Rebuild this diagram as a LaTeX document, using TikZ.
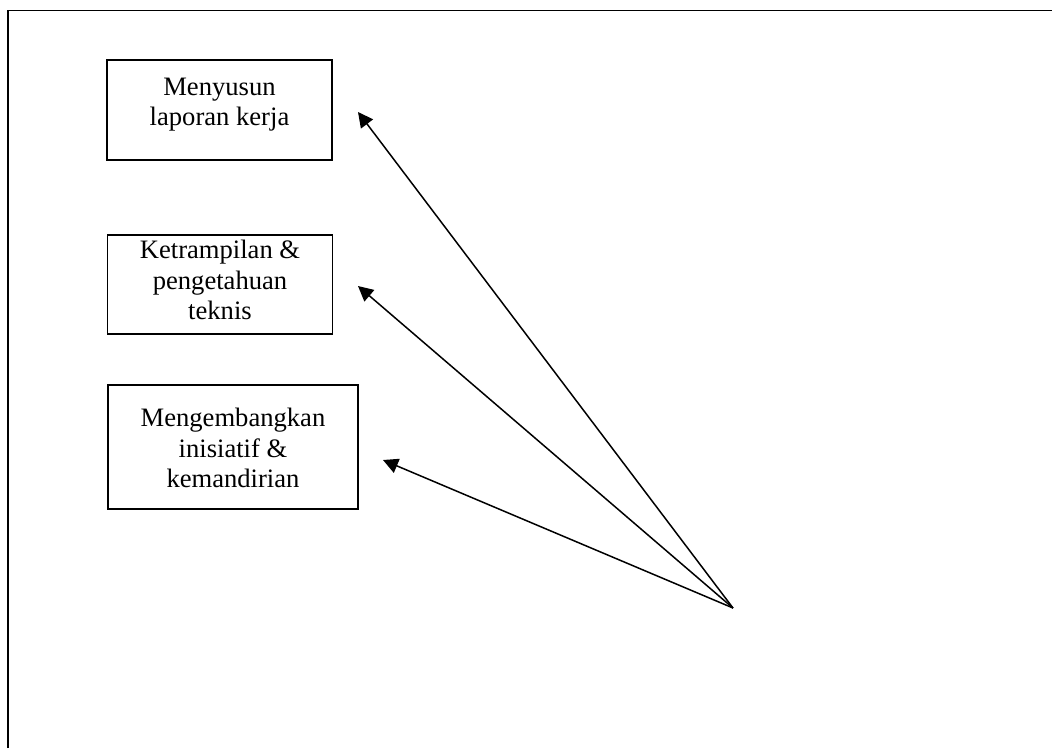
\documentclass[tikz,border=0pt]{standalone}
\usepackage{fontspec}
\setmainfont{Liberation Serif}
\usetikzlibrary{arrows.meta}
\begin{document}
\begin{tikzpicture}[x=1pt,y=-1pt,
  line width=1.5pt,
  framebox/.style={draw,line width=1.5pt,rectangle,inner sep=0pt},
  boxtext/.style={align=center,inner sep=0pt,font=\fontsize{26.6}{30.5}\selectfont},
  pointer/.style={-{Triangle[length=15pt,width=15pt]},line width=1.5pt}]
  \useasboundingbox (0,0) rectangle (1052,748);
  % outer frame (open to the right and bottom)
  \draw[line width=1.6pt] (8,748) -- (8,10.5) -- (1052,10.5);
  % boxes
  \node[framebox,minimum width=225pt,minimum height=100pt] (b1) at (219.5,110) {};
  \node[framebox,minimum width=225pt,minimum height=99pt] (b2) at (220,284.5) {};
  \node[framebox,minimum width=250pt,minimum height=124pt] (b3) at (233,447) {};
  % box texts
  \node[boxtext] (t1) at ([yshift=5.5pt]b1.center) {Menyusun\\laporan kerja};
  \node[boxtext] (t2) at ([yshift=4.5pt]b2.center) {Ketrampilan \&\\pengetahuan\\teknis};
  \node[boxtext] (t3) at ([yshift=-1pt]b3.center) {Mengembangkan\\inisiatif \&\\kemandirian};
  % arrows fanning out from one point
  \coordinate (src) at (733,608);
  \coordinate (p1) at (358,112);
  \coordinate (p2) at (358,286);
  \coordinate (p3) at (383,460);
  \draw[pointer] (src) -- (p1);
  \draw[pointer] (src) -- (p2);
  \draw[pointer] (src) -- (p3);
\end{tikzpicture}
\end{document}
